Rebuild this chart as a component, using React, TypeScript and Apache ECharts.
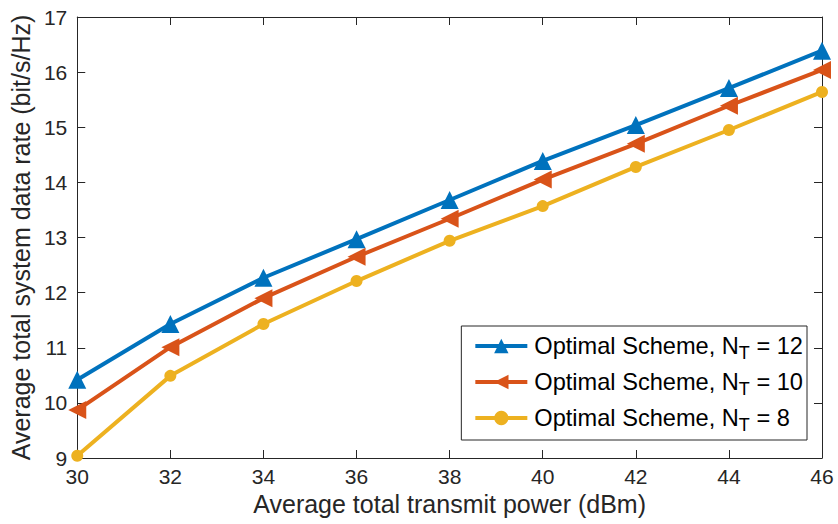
import React, { useEffect, useRef } from "react";
import * as echarts from "echarts";

const power = [30, 32, 34, 36, 38, 40, 42, 44, 46];
const rateNT12 = [10.42, 11.43, 12.27, 12.97, 13.68, 14.39, 15.04, 15.71, 16.39];
const rateNT10 = [9.87, 11.01, 11.9, 12.65, 13.34, 14.05, 14.7, 15.39, 16.04];
const rateNT8 = [9.04, 10.49, 11.43, 12.21, 12.94, 13.57, 14.28, 14.95, 15.64];
const seriesNames = ["Optimal Scheme, N_T = 12", "Optimal Scheme, N_T = 10", "Optimal Scheme, N_T = 8"];

const FONT = "Liberation Sans, Arial, Helvetica, sans-serif";

export default function App() {
  const ref = useRef<HTMLDivElement>(null);
  useEffect(() => {
    if (!ref.current) return;
    const chart = echarts.init(ref.current, null, { renderer: "svg" });
    const mk = (name: string, data: number[], color: string, symbol: string, size: number, rot: number) => ({
      name,
      type: "line",
      data: power.map((p, i) => [p, data[i]]),
      color,
      symbol,
      symbolSize: size,
      symbolRotate: rot,
      lineStyle: { width: 4, color },
      itemStyle: { color },
      showAllSymbol: true,
      z: 3,
    });
    const axisCommon = {
      axisLine: { show: true, lineStyle: { color: "#262626", width: 1 } },
      axisTick: { show: true, inside: true, length: 8, lineStyle: { color: "#262626" } },
      splitLine: { show: false },
    };
    chart.setOption({
      animation: false,
      backgroundColor: "#fff",
      grid: { left: 77, right: 16, top: 17, bottom: 66, containLabel: false },
      xAxis: [
        {
          type: "value",
          min: 30,
          max: 46,
          interval: 2,
          position: "bottom",
          ...axisCommon,
          axisLabel: { color: "#262626", fontSize: 21, fontFamily: FONT, margin: 8 },
          name: "Average total transmit power (dBm)",
          nameLocation: "middle",
          nameGap: 31,
          nameTextStyle: { color: "#262626", fontSize: 25, fontFamily: FONT },
        },
        {
          type: "value",
          min: 30,
          max: 46,
          interval: 2,
          position: "top",
          ...axisCommon,
          axisLabel: { show: false },
        },
      ],
      yAxis: [
        {
          type: "value",
          min: 9,
          max: 17,
          interval: 1,
          position: "left",
          ...axisCommon,
          axisLabel: { color: "#262626", fontSize: 21, fontFamily: FONT, margin: 10 },
          name: "Average total system data rate (bit/s/Hz)",
          nameLocation: "middle",
          nameGap: 37,
          nameTextStyle: { color: "#262626", fontSize: 25, fontFamily: FONT },
        },
        {
          type: "value",
          min: 9,
          max: 17,
          interval: 1,
          position: "right",
          ...axisCommon,
          axisLabel: { show: false },
        },
      ],
      legend: {
        orient: "vertical",
        right: 31,
        bottom: 84,
        padding: [8, 4, 6, 12],
        itemGap: 8,
        itemWidth: 52,
        itemHeight: 18,
        borderColor: "#262626",
        borderWidth: 1,
        backgroundColor: "#fff",
        lineStyle: { width: 4 },
        data: seriesNames,
        formatter: (n: string) => {
          const parts = n.split("N_T");
          return parts[0] + "N{sub|T}" + parts[1];
        },
        textStyle: {
          color: "#000",
          fontSize: 23.6,
          fontFamily: FONT,
          padding: [0, 0, 0, 2],
          rich: {
            sub: { fontSize: 18, fontFamily: FONT, color: "#000", verticalAlign: "bottom", padding: [14, 0, 0, 0] },
          },
        },
      },
      series: [
        mk(seriesNames[0], rateNT12, "#0072BD", "triangle", 18, 0),
        mk(seriesNames[1], rateNT10, "#D95319", "triangle", 18, 90),
        mk(seriesNames[2], rateNT8, "#EDB120", "circle", 12, 0),
      ],
    });
    return () => chart.dispose();
  }, []);
  return <div ref={ref} style={{ width: 838, height: 524, position: "absolute", left: 0, top: 0 }} />;
}
